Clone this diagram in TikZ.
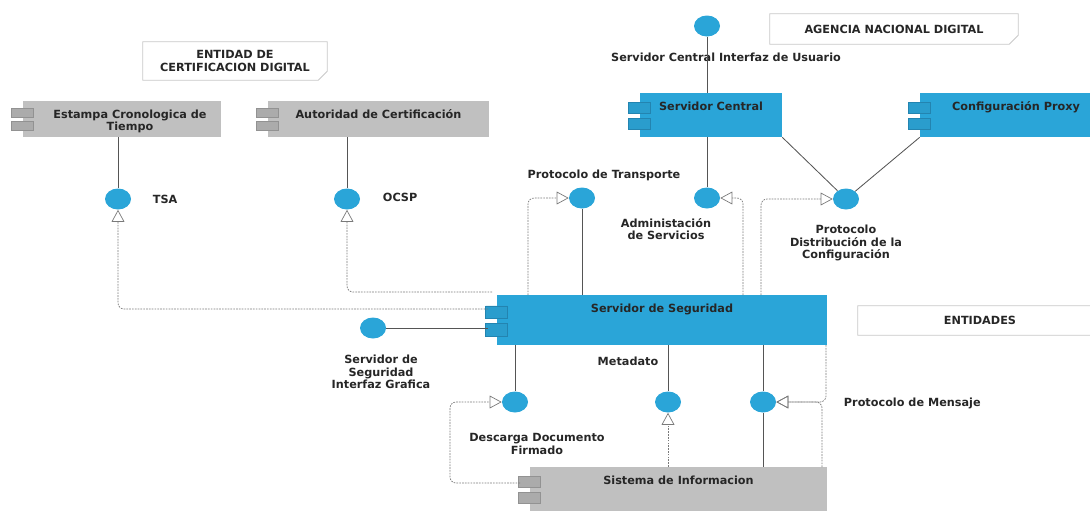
\documentclass[tikz,border=0pt]{standalone}
\usepackage{fontspec}
\setmainfont{DejaVu Sans}
\usetikzlibrary{shapes.geometric,arrows.meta,calc}

\definecolor{compblue}{HTML}{2AA5D8}
\definecolor{tabblue}{HTML}{2A9DCD}
\definecolor{tabblueline}{HTML}{2384B0}
\definecolor{compgray}{HTML}{C0C0C0}
\definecolor{tabgray}{HTML}{ABABAB}
\definecolor{tabgrayline}{HTML}{929292}
\definecolor{linegray}{HTML}{555555}
\definecolor{dashgray}{HTML}{7A7A7A}
\definecolor{notegray}{HTML}{C8C8C8}

\tikzset{
  every node/.style={font=\fontsize{8}{9}\selectfont\bfseries, text=black!85},
  comp/.style={rectangle, inner sep=0pt},
  bcomp/.style={comp, fill=compblue},
  gcomp/.style={comp, fill=compgray},
  ctext/.style={anchor=north, yshift=-1.8mm, inner sep=1pt, align=center},
  iface/.style={ellipse, fill=compblue, minimum width=6.5mm, minimum height=5.25mm, inner sep=0pt},
  note/.style={inner sep=0pt, align=center},
  notedraw/.style={draw=notegray, line width=0.6pt},
  link/.style={draw=linegray, line width=0.6pt},
  req/.style={draw=dashgray, line width=0.5pt, dash pattern=on 1.2pt off 0.8pt,
    rounded corners=1.5mm, -{Triangle[open, length=3mm, width=3.2mm]}}
}

% two tabs on the left side of a component
\newcommand{\comptabs}[3]{%
  \filldraw[fill=#2, draw=#3, line width=0.4pt]
    ($(#1.north west)!0.22!(#1.south west)+(-11,0)$) rectangle ($(#1.north west)!0.46!(#1.south west)+(11,0)$)
    ($(#1.north west)!0.57!(#1.south west)+(-11,0)$) rectangle ($(#1.north west)!0.82!(#1.south west)+(11,0)$);
}
% note with cut corner
\newcommand{\cutnote}[1]{%
  \draw[notedraw] (#1.north west) -- (#1.north east) -- ($(#1.south east)+(0,-9)$)
    -- ($(#1.south east)+(-9,0)$) -- (#1.south west) -- cycle;
}

\begin{document}
\begin{tikzpicture}[x=0.25mm, y=-0.25mm]
\useasboundingbox (0,0) rectangle (1090,511);
\clip (0,0) rectangle (1090,511);

% notas
\node[note, minimum width=46mm, minimum height=9.5mm] (ecd) at (235,61) {ENTIDAD DE\\CERTIFICACION DIGITAL};
\node[note, minimum width=62mm, minimum height=7.5mm] (and) at (894,29) {AGENCIA NACIONAL DIGITAL};
\node[note, minimum width=61mm, minimum height=7.25mm] (ent) at (980,320.5) {ENTIDADES};
\cutnote{ecd}
\cutnote{and}
\cutnote{ent}

% componentes
\node[gcomp, minimum width=49.5mm, minimum height=9mm,
  label={[ctext, xshift=2mm]north:Estampa Cronologica de\\Tiempo}] (ect) at (122,119) {};
\node[gcomp, minimum width=55.25mm, minimum height=9mm,
  label={[ctext]north:Autoridad de Certificación}] (aut) at (378.5,119) {};
\node[bcomp, minimum width=35.5mm, minimum height=11mm,
  label={[ctext]north:Servidor Central}] (sc) at (711,115) {};
\node[bcomp, minimum width=48mm, minimum height=11mm,
  label={[ctext]north:Configuración Proxy}] (cp) at (1016,115) {};
\node[bcomp, minimum width=82.5mm, minimum height=12.5mm,
  label={[ctext]north:Servidor de Seguridad}] (ss) at (662,320) {};
\node[gcomp, minimum width=74.25mm, minimum height=11mm,
  label={[ctext]north:Sistema de Informacion}] (si) at (678.5,489) {};
\comptabs{ect}{tabgray}{tabgrayline}
\comptabs{aut}{tabgray}{tabgrayline}
\comptabs{sc}{tabblue}{tabblueline}
\comptabs{cp}{tabblue}{tabblueline}
\comptabs{ss}{tabblue}{tabblueline}
\comptabs{si}{tabgray}{tabgrayline}

% interfaces
\node[iface] (cui) at (707,26) {};
\node[iface] (tsa) at (118,199) {};
\node[iface] (ocsp) at (347,199) {};
\node[iface] (pt) at (582,198) {};
\node[iface] (adm) at (707,198) {};
\node[iface] (pdc) at (846,199) {};
\node[iface] (sgi) at (373,328) {};
\node[iface] (ddf) at (515,402) {};
\node[iface] (md) at (668,402) {};
\node[iface] (pm) at (763,402) {};

\node[anchor=west] (tsa-l) at (148,199) {TSA};
\node[anchor=west] (ocsp-l) at (378,197) {OCSP};
\node (cui-l) at (726,57) {Servidor Central Interfaz de Usuario};
\node (pt-l) at (604,175) {Protocolo de Transporte};
\node[align=center] (adm-l) at (666,229) {Administación\\de Servicios};
\node[align=center] (pdc-l) at (846,243) {Protocolo\\Distribución de la\\Configuración};
\node[align=center] (sgi-l) at (381,372) {Servidor de\\Seguridad\\Interfaz Grafica};
\node (md-l) at (628,361) {Metadato};
\node[align=center] (ddf-l) at (537,444) {Descarga Documento\\Firmado};
\node[anchor=west] (pm-l) at (839,403) {Protocolo de Mensaje};

% puntos de conexion
\coordinate (ss-t1) at (488,309);
\coordinate (ss-t2) at (488,328);
\coordinate (ss-c) at (492,292);
\coordinate (ss-pt) at (528,295);
\coordinate (ss-adm) at (743,295);
\coordinate (ss-pdc) at (761,295);
\coordinate (ss-pm) at (826,345);
\coordinate (si-t1) at (520,483);
\coordinate (si-pm) at (822,467);

% interfaces provistas
\draw[link] (ect.south -| tsa) -- (tsa);
\draw[link] (aut.south -| ocsp) -- (ocsp);
\draw[link] (cui) -- (sc.north -| cui);
\draw[link] (sc.south -| adm) -- (adm);
\draw[link] (sc.south east) -- (pdc);
\draw[link] (cp.south west) -- (pdc);
\draw[link] (pt) -- (ss.north -| pt);
\draw[link] (sgi) -- (ss-t2);
\draw[link] (ss.south -| ddf) -- (ddf);
\draw[link] (ss.south -| md) -- (md);
\draw[link] (ss.south -| pm) -- (pm) -- (si.north -| pm);

% interfaces requeridas
\draw[req] (ss-t1) -| (tsa);
\draw[req] (ss-c) -| (ocsp);
\draw[req] (ss-pt) |- (pt);
\draw[req] (ss-adm) |- (adm);
\draw[req] (ss-pdc) |- (pdc);
\draw[req] (si-t1) -- ++(-70,0) |- (ddf);
\draw[req] (si.north -| md) -- (md);
\draw[req] (ss-pm) |- (pm);
\draw[req] (si-pm) |- (pm);
\end{tikzpicture}
\end{document}
